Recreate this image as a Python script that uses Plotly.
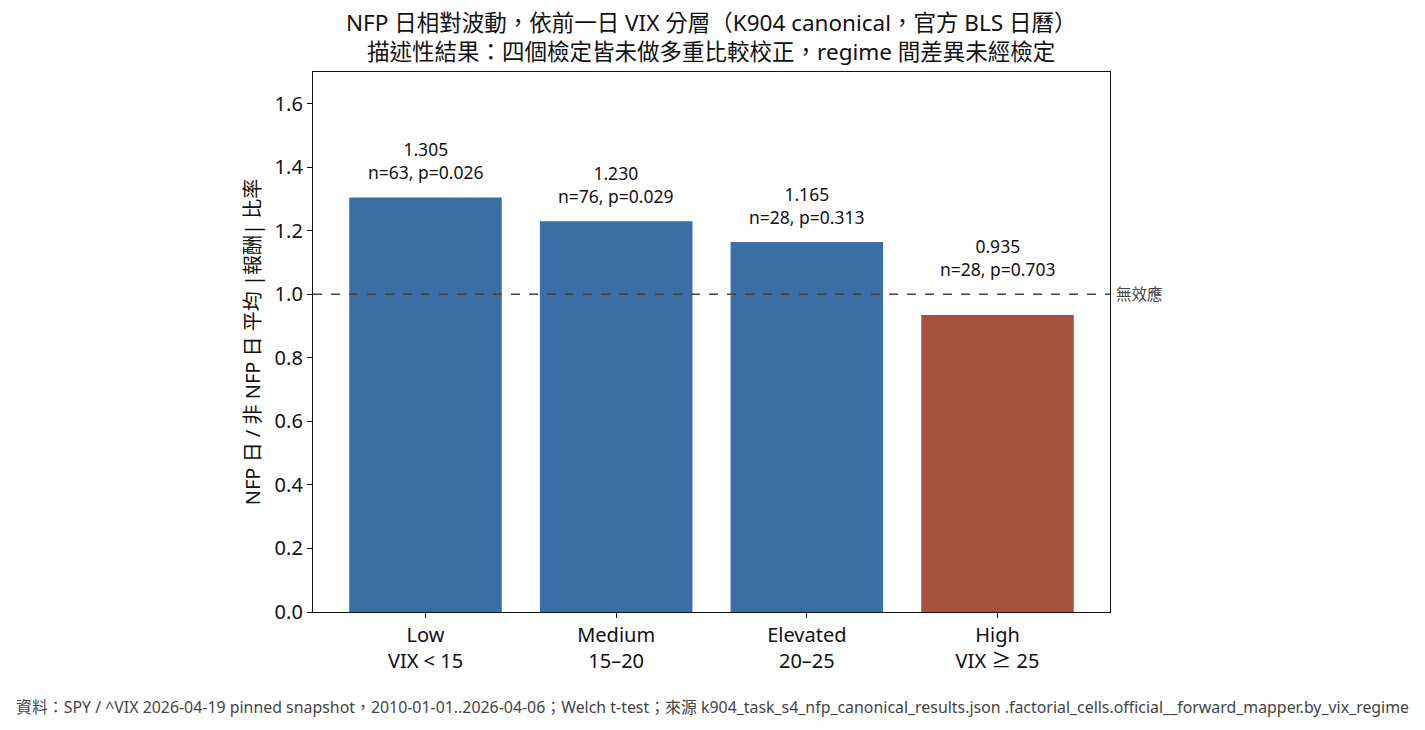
import plotly.graph_objects as go

categories = ["Low<br>VIX < 15", "Medium<br>15–20", "Elevated<br>20–25", "High<br>VIX ≥ 25"]
ratios = [1.305, 1.230, 1.165, 0.935]
n_obs = [63, 76, 28, 28]
p_vals = [0.026, 0.029, 0.313, 0.703]
no_effect = 1.0

blue = "#3b6ea5"
red = "#a4533a"
colors = [blue if r >= no_effect else red for r in ratios]

font_family = "Noto Sans, Noto Sans CJK TC, sans-serif"

fig = go.Figure(go.Bar(
    x=categories,
    y=ratios,
    width=0.8,
    marker=dict(color=colors, line=dict(width=0)),
    hovertemplate="%{x}: %{y:.3f}<extra></extra>",
    showlegend=False,
))

# labels above each bar (kept above the no-effect line)
for cat, r, n, p in zip(categories, ratios, n_obs, p_vals):
    fig.add_annotation(
        x=cat, y=max(r, no_effect), text=f"{r:.3f}<br>n={n}, p={p:.3f}",
        showarrow=False, yanchor="bottom", yshift=11,
        font=dict(size=17.5, color="#111"),
    )

# reference line at 1.0
fig.add_shape(type="line", xref="paper", x0=0, x1=1, yref="y", y0=no_effect, y1=no_effect,
              line=dict(color="#444", width=1.5, dash="dash"))
fig.add_annotation(xref="paper", x=1, y=no_effect, text="無效應", showarrow=False,
                   xanchor="left", xshift=4, font=dict(size=15.5, color="#444"))

# title
fig.add_annotation(
    xref="paper", yref="paper", x=0.5, y=1, xanchor="center", yanchor="bottom", yshift=3,
    text="NFP 日相對波動，依前一日 VIX 分層（K904 canonical，官方 BLS 日曆）<br>"
         "描述性結果：四個檢定皆未做多重比較校正，regime 間差異未經檢定",
    showarrow=False, font=dict(size=22.5, color="#111"),
)

# footer
fig.add_annotation(
    xref="paper", yref="paper", x=-0.375, y=-0.176, xanchor="left", yanchor="middle",
    text="資料：SPY / ^VIX 2026-04-19 pinned snapshot，2010-01-01..2026-04-06；Welch t-test；"
         "來源 k904_task_s4_nfp_canonical_results.json .factorial_cells.official__forward_mapper.by_vix_regime",
    showarrow=False, font=dict(size=15.9, color="#444"),
)

fig.update_layout(
    width=1425, height=730,
    margin=dict(l=305, r=323, t=64, b=126),
    paper_bgcolor="white", plot_bgcolor="white",
    font=dict(family=font_family, color="#111"),
    xaxis=dict(
        range=[-0.59, 3.59], showline=True, linecolor="#111", linewidth=1.3, mirror=True,
        ticks="outside", ticklen=5, tickcolor="#111", showgrid=False,
        tickfont=dict(size=20),
    ),
    yaxis=dict(
        range=[0, 1.7], dtick=0.2, tickformat=".1f", showline=True, linecolor="#111",
        linewidth=1.3, mirror=True, ticks="outside", ticklen=5, tickcolor="#111",
        showgrid=False, zeroline=False, tickfont=dict(size=20),
        title=dict(text="NFP 日 / 非 NFP 日 平均 |報酬| 比率", font=dict(size=20), standoff=8),
    ),
)

fig.write_html("out.html")
